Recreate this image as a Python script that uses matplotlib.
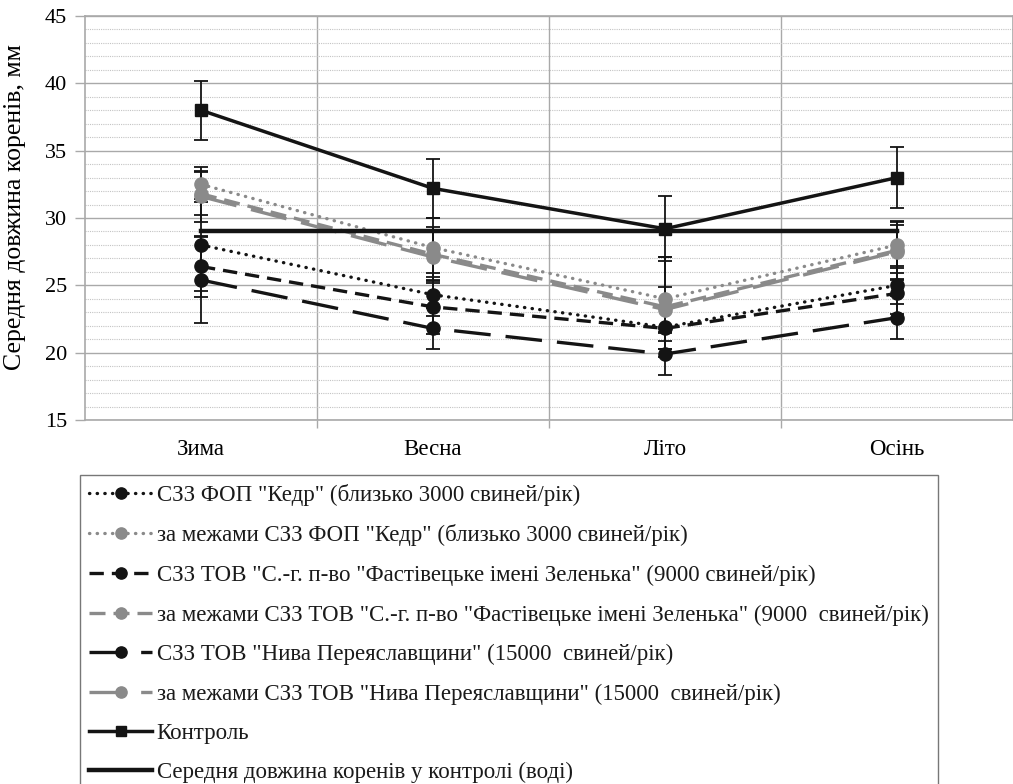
import matplotlib
matplotlib.use("Agg")
import matplotlib.pyplot as plt
from matplotlib.ticker import MultipleLocator, FixedLocator
import numpy as np

# Seasons on the x axis
seasons = ["Зима", "Весна", "Літо", "Осінь"]

# Mean root length, mm
kedr_szz = [28.0, 24.3, 21.9, 25.0]
kedr_out = [32.5, 27.8, 24.0, 28.0]
fast_szz = [26.4, 23.4, 21.8, 24.4]
fast_out = [31.8, 27.3, 23.4, 27.6]
niva_szz = [25.4, 21.8, 19.9, 22.6]
niva_out = [31.6, 27.1, 23.2, 27.5]
control = [38.0, 32.2, 29.2, 33.0]
control_mean = [29.0, 29.0, 29.0, 29.0]

# Error bar half-widths, mm
kedr_szz_err = [3.4, 1.6, 1.6, 1.4]
kedr_out_err = [1.3, 2.2, 3.1, 1.7]
fast_szz_err = [2.3, 2.0, 1.5, 1.5]
fast_out_err = [1.6, 2.0, 3.7, 2.2]
niva_szz_err = [3.2, 1.5, 1.55, 1.6]
niva_out_err = [1.9, 1.9, 1.7, 2.0]
control_err = [2.2, 2.2, 2.4, 2.25]

labels = [
    'СЗЗ ФОП "Кедр" (близько 3000 свиней/рік)',
    'за межами СЗЗ ФОП "Кедр" (близько 3000 свиней/рік)',
    'СЗЗ ТОВ "С.-г. п-во "Фастівецьке імені Зеленька" (9000 свиней/рік)',
    'за межами СЗЗ ТОВ "С.-г. п-во "Фастівецьке імені Зеленька" (9000  свиней/рік)',
    'СЗЗ ТОВ "Нива Переяславщини" (15000  свиней/рік)',
    'за межами СЗЗ ТОВ "Нива Переяславщини" (15000  свиней/рік)',
    'Контроль',
    'Середня довжина коренів у контролі (воді)',
]

plt.rcParams["font.family"] = ["Liberation Serif", "DejaVu Serif"]
plt.rcParams["text.color"] = "#1a1a1a"

BLACK = "#141414"
GREY = "#8a8a8a"
GRID = "#a9a9a9"

fig = plt.figure(figsize=(10.13, 7.84), dpi=100)
ax = fig.add_axes([85 / 1013, 1 - 420 / 784, 1 - 85 / 1013, (420 - 16) / 784])

x = np.arange(len(seasons))

series = [
    (kedr_szz, kedr_szz_err, BLACK, (0, (0.1, 2.2)), "round"),
    (kedr_out, kedr_out_err, GREY, (0, (0.1, 2.2)), "round"),
    (fast_szz, fast_szz_err, BLACK, (0, (4.3, 2.4)), "butt"),
    (fast_out, fast_out_err, GREY, (0, (4.8, 2.4)), "butt"),
    (niva_szz, niva_szz_err, BLACK, (0, (11, 4.5)), "butt"),
    (niva_out, niva_out_err, GREY, (0, (11, 4.5)), "butt"),
]

handles = []
for (vals, err, col, ls, cap), lab in zip(series, labels[:6]):
    ax.errorbar(x, vals, yerr=err, fmt="none", ecolor=BLACK, elinewidth=1.3,
                capsize=5, capthick=1.3, zorder=3)
    (ln,) = ax.plot(x, vals, color=col, linestyle=ls, linewidth=2.4,
                    dash_capstyle=cap, marker="o", markersize=9.5,
                    markerfacecolor=col, markeredgecolor=col, label=lab, zorder=4)
    handles.append(ln)

ax.errorbar(x, control, yerr=control_err, fmt="none", ecolor=BLACK,
            elinewidth=1.3, capsize=5, capthick=1.3, zorder=3)
(ln_c,) = ax.plot(x, control, color=BLACK, linewidth=2.5, marker="s",
                  markersize=9, label=labels[6], zorder=5)
(ln_m,) = ax.plot(x, control_mean, color=BLACK, linewidth=3.2,
                  label=labels[7], zorder=5)
handles += [ln_c, ln_m]

# Axes, ticks and grid
ax.set_xlim(-0.5, len(seasons) - 0.5)
ax.set_ylim(15, 45)
ax.yaxis.set_major_locator(MultipleLocator(5))
ax.yaxis.set_minor_locator(MultipleLocator(1))
ax.set_xticks(x)
ax.set_xticklabels(seasons, fontsize=16.5)
ax.xaxis.set_minor_locator(FixedLocator(np.arange(0.5, len(seasons) - 0.5, 1.0)))
ax.tick_params(axis="x", which="major", length=0, pad=14)
ax.tick_params(axis="x", which="minor", length=6, color=GRID, width=1)
ax.tick_params(axis="y", which="major", length=7, color=GRID, width=1,
               labelsize=16, pad=6)
ax.tick_params(axis="y", which="minor", length=0)

ax.grid(True, axis="y", which="major", color=GRID, linewidth=1.0, zorder=0)
ax.grid(True, axis="y", which="minor", color="#c4c4c4", linewidth=0.8,
        linestyle=(0, (1, 1)), zorder=0)
ax.grid(True, axis="x", which="minor", color=GRID, linewidth=1.0, zorder=0)
ax.set_axisbelow(True)
for side in ["left", "bottom", "top", "right"]:
    ax.spines[side].set_color(GRID)
    ax.spines[side].set_linewidth(1.2)

ax.set_ylabel("Середня довжина коренів, мм", fontsize=18.5)
ax.yaxis.set_label_coords(-0.064, 0.527)

leg = fig.legend(handles=handles, labels=labels, loc="upper left",
                 bbox_to_anchor=(80 / 1013, 1 - 475 / 784), fontsize=16.5,
                 frameon=True, fancybox=False, edgecolor="#555555",
                 handlelength=2.75, handletextpad=0.2, labelspacing=0.8,
                 borderpad=0.4, borderaxespad=0, markerscale=0.85)
leg.get_frame().set_linewidth(1.0)

fig.savefig("out.png", dpi=100)
